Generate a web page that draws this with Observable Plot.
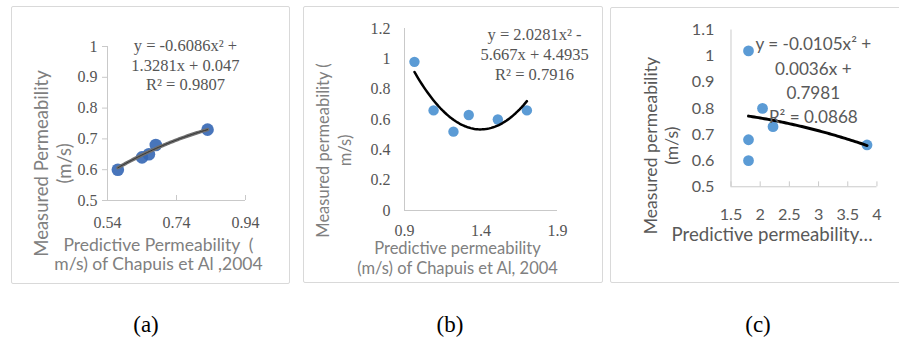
<!DOCTYPE html>
<html><head><meta charset="utf-8">
<script src="https://cdn.jsdelivr.net/npm/d3@7"></script>
<script src="https://cdn.jsdelivr.net/npm/@observablehq/plot@0.6"></script>
<style>
body{margin:0;background:#fff;width:899px;height:347px;overflow:hidden;position:relative}
.box{position:absolute;overflow:hidden}
.box svg{display:block}
.frame{position:absolute;border:1px solid #d9d9d9;border-radius:2px;box-sizing:border-box;pointer-events:none}
.cap{position:absolute;font-family:"Liberation Serif",serif;font-size:23px;color:#000;transform:translateX(-50%);line-height:1}
</style></head><body>
<div id="pa" class="box" style="left:11px;top:6px;width:279px;height:278px"></div>
<div class="frame" style="left:11px;top:6px;width:279px;height:278px"></div>
<div id="pb" class="box" style="left:303px;top:6px;width:300px;height:277px"></div>
<div class="frame" style="left:303px;top:6px;width:300px;height:277px"></div>
<div id="pc" class="box" style="left:610px;top:7px;width:289px;height:276px"></div>
<div class="frame" style="left:610px;top:7px;width:300px;height:276px"></div>
<div class="cap" style="left:146px;top:313px">(a)</div>
<div class="cap" style="left:450px;top:313px">(b)</div>
<div class="cap" style="left:758px;top:313px">(c)</div>
<script>
// Panel (a)
const aX = [0.57, 0.64, 0.66, 0.68, 0.83];
const aY = [0.60, 0.64, 0.65, 0.68, 0.73];
const aCoef = [0.047, 1.3281, -0.6086]; // c0 + c1 x + c2 x^2
const aXTicks = [0.54, 0.74, 0.94];
const aYTicks = [0.5, 0.6, 0.7, 0.8, 0.9, 1];
const aEq = "y = -0.6086x² +\n1.3281x + 0.047\nR² = 0.9807";
const aXTitle = "Predictive Permeability  (\nm/s) of Chapuis et Al ,2004";
const aYTitle = "Measured Permeability\n(m/s)";

// Panel (b)
const bX = [0.965, 1.09, 1.22, 1.32, 1.51, 1.70];
const bY = [0.98, 0.66, 0.52, 0.63, 0.60, 0.66];
const bCoef = [4.4935, -5.667, 2.0281];
const bXTicks = [0.9, 1.4, 1.9];
const bYTicks = [0, 0.2, 0.4, 0.6, 0.8, 1, 1.2];
const bEq = "y = 2.0281x² -\n5.667x + 4.4935\nR² = 0.7916";
const bXTitle = "Predictive permeability\n(m/s) of Chapuis et Al, 2004";
const bYTitle = "Measured permeability (\nm/s)";

// Panel (c)
const cX = [1.80, 1.80, 1.80, 2.04, 2.22, 3.83];
const cY = [1.02, 0.68, 0.60, 0.80, 0.73, 0.66];
const cCoef = [0.7981, 0.0036, -0.0105];
const cXTicks = [1.5, 2, 2.5, 3, 3.5, 4];
const cYTicks = [0.5, 0.6, 0.7, 0.8, 0.9, 1, 1.1];
const cEq = "y = -0.0105x² +\n0.0036x +\n0.7981\nR² = 0.0868";
const cXTitle = "Predictive permeability…";
const cYTitle = "Measured permeability\n(m/s)";

const pts = (xs, ys) => xs.map((x, i) => ({x, y: ys[i]}));
const fit = (xs, c) => {
  const [lo, hi] = d3.extent(xs);
  return d3.range(0, 61).map(i => {
    const x = lo + (hi - lo) * i / 60;
    return {x, y: c[0] + c[1] * x + c[2] * x * x};
  });
};
const fmt = d => String(d);
const SERIF = "'Liberation Serif', serif";
const SANS = "Lato, sans-serif";
const AXC = "#c9c9c9";

const plotA = Plot.plot({
  width: 279, height: 278,
  marginTop: 40, marginRight: 45, marginBottom: 84, marginLeft: 96,
  x: {domain: [0.54, 0.94]},
  y: {domain: [0.5, 1]},
  style: {background: "transparent", fontFamily: SERIF, fontSize: "16px", color: "#555"},
  marks: [
    Plot.ruleX([0.54], {stroke: AXC}),
    Plot.ruleY([0.5], {stroke: AXC}),
    Plot.axisY({ticks: aYTicks, tickSize: 5, tickPadding: 5, tickFormat: fmt, label: null, stroke: AXC, fill: "#555"}),
    Plot.axisX({ticks: aXTicks, tickSize: -5, tickFormat: () => "", label: null, stroke: AXC}),
    Plot.axisX({ticks: aXTicks, tickSize: 0, tickPadding: 16, tickFormat: fmt, label: null, fill: "#555"}),
    Plot.dot(pts(aX, aY), {x: "x", y: "y", r: 6.3, fill: "#3466b4", fillOpacity: 0.9}),
    Plot.line(fit(aX, aCoef), {x: "x", y: "y", stroke: "#707070", strokeWidth: 3.5}),
    Plot.line(fit(aX, aCoef), {x: "x", y: "y", stroke: "#333", strokeWidth: 1}),
    Plot.text([aEq], {x: 0.766, y: 0.942, fontFamily: SERIF, fontSize: 16.5, lineHeight: 1.18, fill: "#555"}),
    Plot.text([aXTitle], {frameAnchor: "bottom", lineAnchor: "middle", textAnchor: "middle", dx: -18, dy: 54, fontFamily: SANS, fontSize: 17.5, lineHeight: 1.08, fill: "#808080"}),
    Plot.text([aYTitle], {frameAnchor: "left", lineAnchor: "middle", textAnchor: "middle", rotate: -90, dx: -55.5, dy: 40, fontFamily: SANS, fontSize: 18.5, lineHeight: 1.22, fill: "#808080"})
  ]
});
document.getElementById("pa").append(plotA);

const plotB = Plot.plot({
  width: 300, height: 277,
  marginTop: 22, marginRight: 46, marginBottom: 73, marginLeft: 101,
  x: {domain: [0.9, 1.9]},
  y: {domain: [0, 1.2]},
  style: {background: "transparent", fontFamily: SERIF, fontSize: "16px", color: "#555"},
  marks: [
    Plot.ruleX([0.9], {stroke: AXC}),
    Plot.ruleY([0], {stroke: AXC}),
    Plot.axisY({ticks: bYTicks, tickSize: 0, tickPadding: 14, tickFormat: fmt, label: null, fill: "#555"}),
    Plot.axisX({ticks: bXTicks, tickSize: 0, tickPadding: 14, tickFormat: fmt, label: null, fill: "#555"}),
    Plot.dot(pts(bX, bY), {x: "x", y: "y", r: 5.2, fill: "#5b9bd5"}),
    Plot.line(fit(bX, bCoef), {x: "x", y: "y", stroke: "#000", strokeWidth: 2.5}),
    Plot.text([bEq], {x: 1.75, y: 1.035, fontFamily: SERIF, fontSize: 16.5, lineHeight: 1.22, fill: "#555"}),
    Plot.text([bXTitle], {frameAnchor: "bottom", lineAnchor: "middle", textAnchor: "middle", dx: -23.5, dy: 47, fontFamily: SANS, fontSize: 16.5, lineHeight: 1.2, fill: "#808080"}),
    Plot.text([bYTitle], {frameAnchor: "left", lineAnchor: "middle", textAnchor: "middle", rotate: -90, dx: -71.5, dy: 31, fontFamily: SANS, fontSize: 16.5, lineHeight: 1.3, fill: "#808080"})
  ]
});
document.getElementById("pb").append(plotB);

const plotC = Plot.plot({
  width: 295, height: 276,
  marginTop: 23, marginRight: 23, marginBottom: 93, marginLeft: 123,
  x: {domain: [1.5, 4]},
  y: {domain: [0.5, 1.1]},
  style: {background: "transparent", fontFamily: SANS, fontSize: "16.5px", color: "#595959"},
  marks: [
    Plot.ruleX([1.5], {stroke: AXC}),
    Plot.ruleY([0.5], {stroke: AXC}),
    Plot.axisY({ticks: cYTicks, tickSize: 0, tickPadding: 17, tickFormat: fmt, label: null, fill: "#595959"}),
    Plot.axisX({ticks: cXTicks, tickSize: -5, tickFormat: () => "", label: null, stroke: AXC}),
    Plot.axisX({ticks: cXTicks, tickSize: 0, tickPadding: 22, tickFormat: fmt, label: null, fill: "#595959"}),
    Plot.dot(pts(cX, cY), {x: "x", y: "y", r: 5.5, fill: "#5b9bd5"}),
    Plot.line(fit(cX, cCoef), {x: "x", y: "y", stroke: "#000", strokeWidth: 3}),
    Plot.text([cEq], {x: 2.91, y: 0.9125, fontFamily: SANS, fontSize: 17.5, lineHeight: 1.42, fill: "#595959"}),
    Plot.text([cXTitle], {frameAnchor: "bottom", lineAnchor: "middle", textAnchor: "middle", dx: -32.5, dy: 49, fontFamily: SANS, fontSize: 19, fill: "#595959"}),
    Plot.text([cYTitle], {frameAnchor: "left", lineAnchor: "middle", textAnchor: "middle", rotate: -90, dx: -72, dy: 38, fontFamily: SANS, fontSize: 18, lineHeight: 1.22, fill: "#595959"})
  ]
});
document.getElementById("pc").append(plotC);
</script>
</body></html>
